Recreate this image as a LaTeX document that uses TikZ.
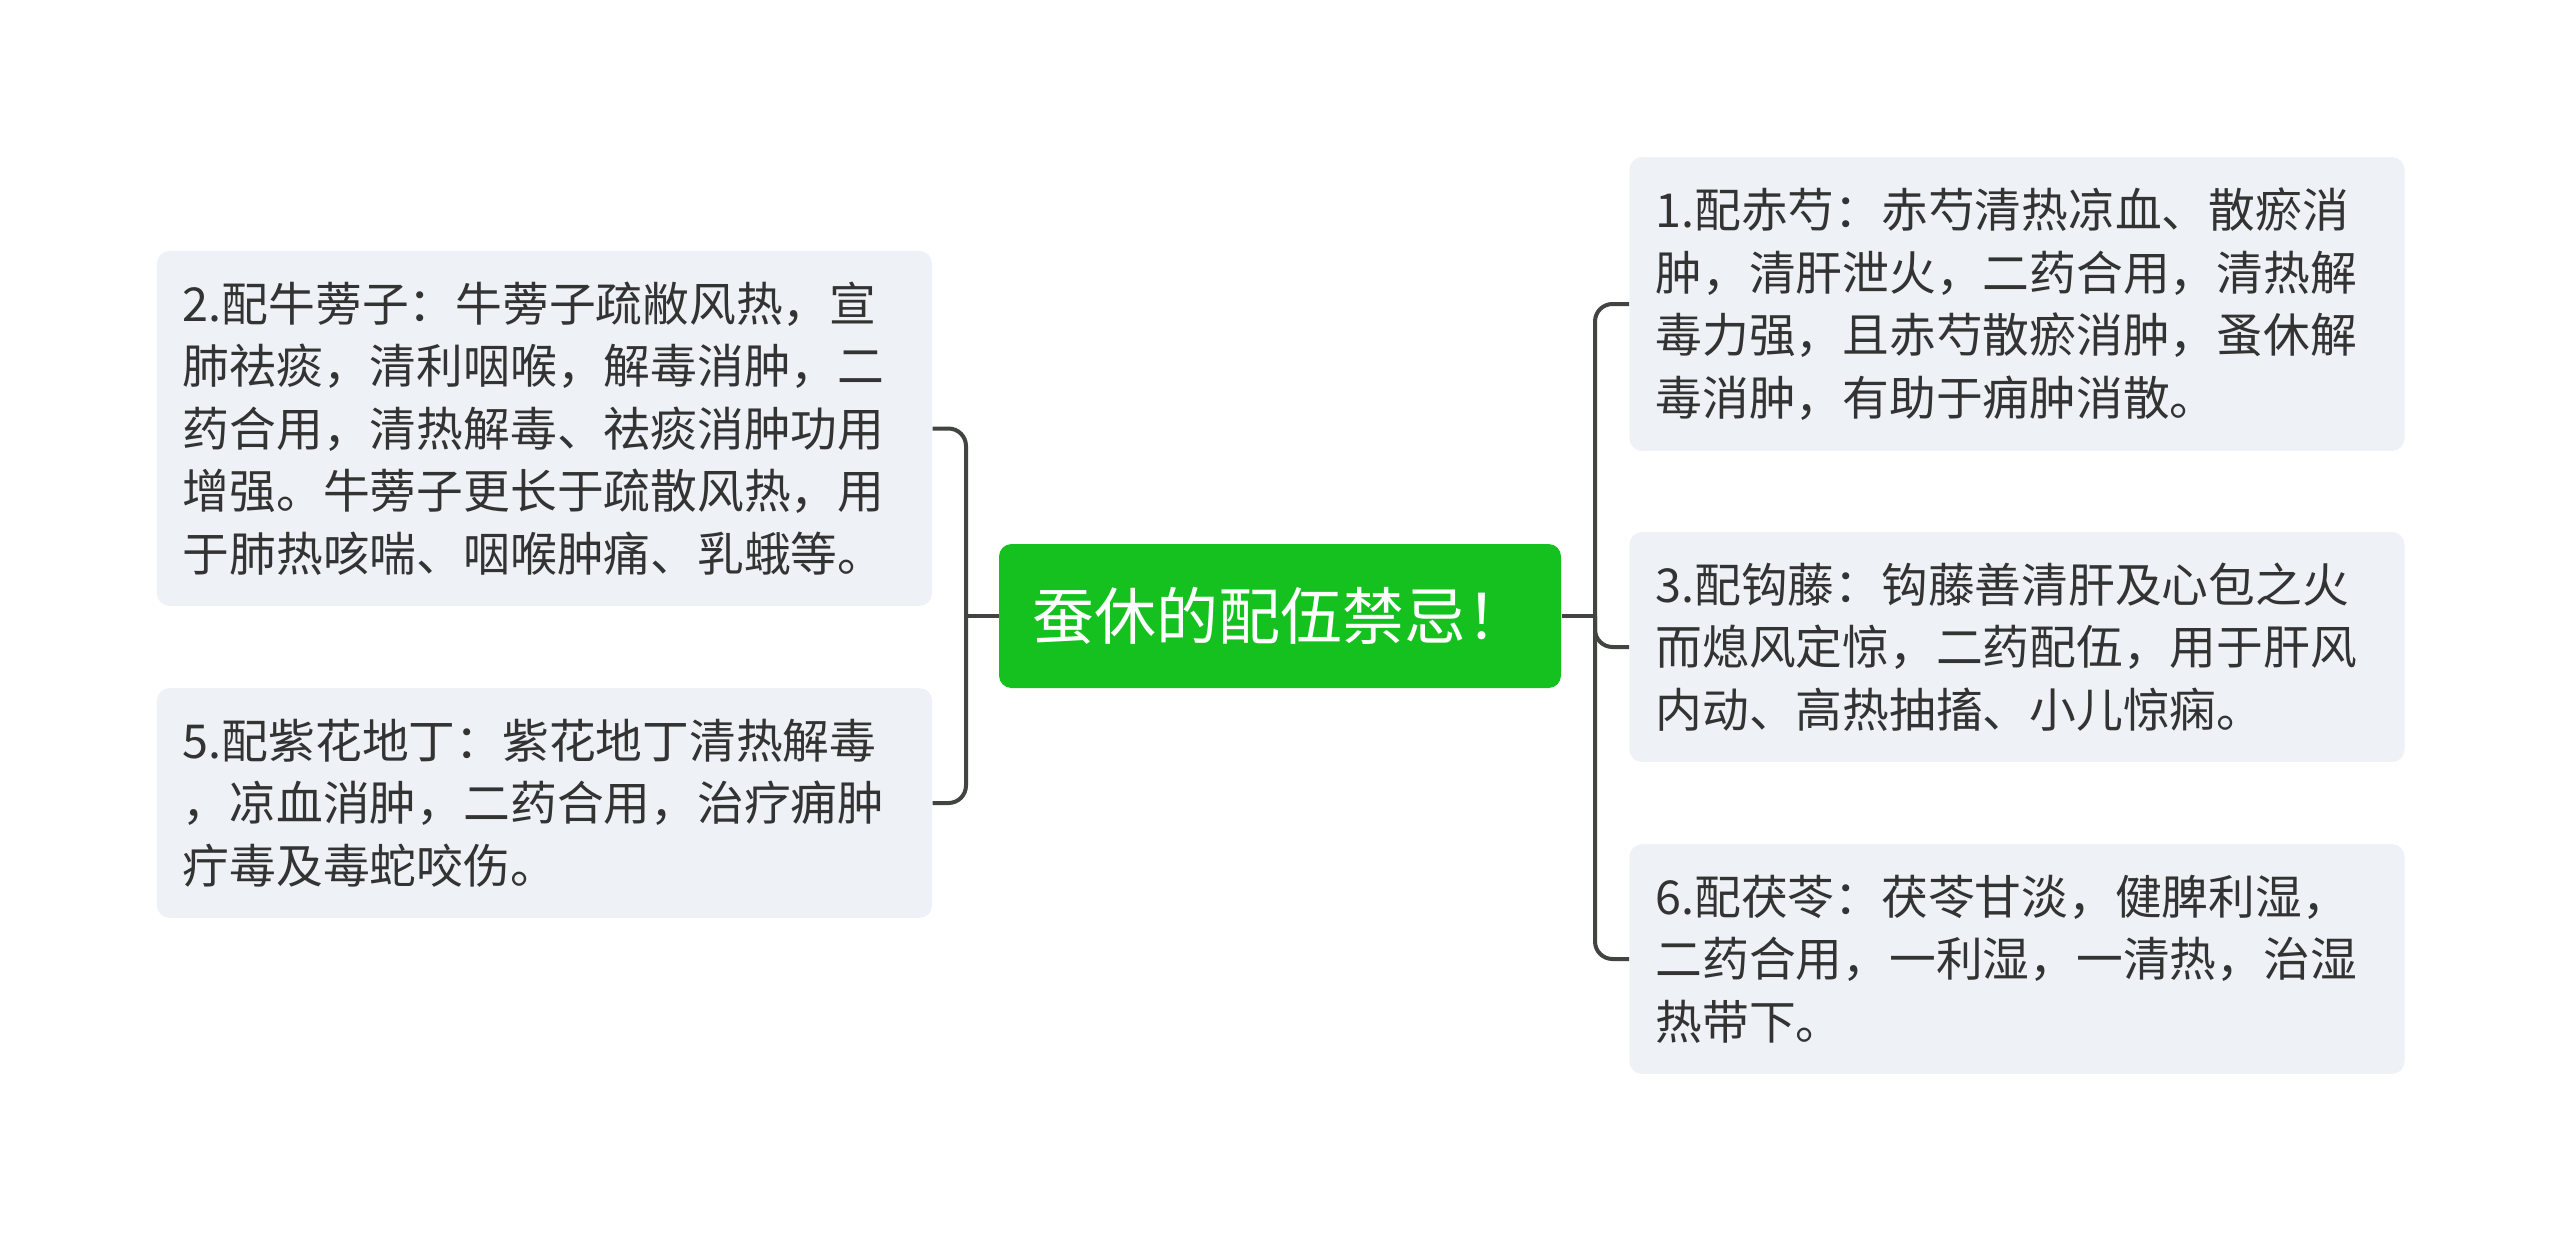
\documentclass[tikz,border=0pt]{standalone}
\usepackage{fontspec}
\setmainfont{Noto Sans CJK SC}
\usepackage{tikz}
\definecolor{topicgreen}{RGB}{20,193,31}
\definecolor{leafgray}{RGB}{238,241,245}
\definecolor{linegray}{RGB}{66,68,66}
\definecolor{textgray}{RGB}{51,51,51}

\begin{document}
\begin{tikzpicture}[x=0.4pt,y=-0.4pt]
          \tikzstyle{boxTopic} = [fill=topicgreen, text=white, rounded corners=5pt,
            minimum width=224.8pt, minimum height=57.6pt, inner sep=0pt,
            font=\fontsize{24.8pt}{30pt}\selectfont]
          \tikzstyle{boxLeaf} = [fill=leafgray, text=textgray, rounded corners=5pt,
            text width=289.2pt, inner xsep=10.4pt, inner ysep=12.3pt, align=left,
            font=\fontsize{18.7pt}{25pt}\selectfont]
          \tikzstyle{line} = [draw=linegray, line width=1.6pt, rounded corners=7pt]

          \useasboundingbox[fill=white] (0,0) rectangle (2560,1233);

          \node(PeiwuJinji)[boxTopic] at (1280,616) {蚕休的配伍禁忌！};

          % left side
          \node(Niubangzi)[boxLeaf] at (544.5,428.5) {2.配牛蒡子：牛蒡子疏敝风热，宣\\肺祛痰，清利咽喉，解毒消肿，二\\药合用，清热解毒、祛痰消肿功用\\增强。牛蒡子更长于疏散风热，用\\于肺热咳喘、咽喉肿痛、乳蛾等。};
          \node(Zihuadiding)[boxLeaf] at (544.5,803) {5.配紫花地丁：紫花地丁清热解毒\\，凉血消肿，二药合用，治疗痈肿\\疔毒及毒蛇咬伤。};

          % right side
          \node(Chishao)[boxLeaf] at (2017,304) {1.配赤芍：赤芍清热凉血、散瘀消\\肿，清肝泄火，二药合用，清热解\\毒力强，且赤芍散瘀消肿，蚤休解\\毒消肿，有助于痈肿消散。};
          \node(Gouteng)[boxLeaf] at (2017,647) {3.配钩藤：钩藤善清肝及心包之火\\而熄风定惊，二药配伍，用于肝风\\内动、高热抽搐、小儿惊痫。};
          \node(Fuling)[boxLeaf] at (2017,959) {6.配茯苓：茯苓甘淡，健脾利湿，\\二药合用，一利湿，一清热，治湿\\热带下。};

          \coordinate(LeftJoint) at (966,616);
          \coordinate(RightJoint) at (1595,616);

          \draw[line] (PeiwuJinji.west) -- (LeftJoint);
          \draw[line] (Niubangzi.east) -| (LeftJoint) |- (Zihuadiding.east);
          \draw[line] (PeiwuJinji.east) -- (RightJoint);
          \draw[line] (Chishao.west) -| (RightJoint) |- (Fuling.west);
          \draw[line] (RightJoint) |- (Gouteng.west);
\end{tikzpicture}
\end{document}
